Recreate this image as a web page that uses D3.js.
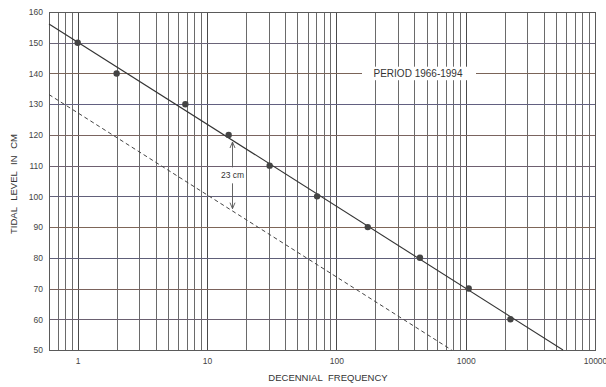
<!DOCTYPE html>
<html>
<head>
<meta charset="utf-8">
<script src="https://cdn.jsdelivr.net/npm/d3@7"></script>
<style>
  html, body { margin: 0; padding: 0; background: #fff; }
  svg { display: block; font-family: "Liberation Sans", Arial, sans-serif; }
</style>
</head>
<body>
<svg id="chart" width="606" height="387"></svg>
<script>
// Observed decennial frequency for each tidal level (cm)
const levels = [150, 140, 130, 120, 110, 100, 90, 80, 70, 60];
const frequencies = [1, 2, 6.8, 14.7, 30.5, 71, 175, 443, 1055, 2218];

// Fitted line: level = fitIntercept - fitSlope * log10(frequency)
const fitIntercept = 150.2;
const fitSlope = 26.7;
const shiftCm = 23;          // offset of the dashed line below the fit
const arrowFrequency = 15.6; // where the offset is marked

const xTickValues = [1, 10, 100, 1000, 10000];
const yTickValues = [50, 60, 70, 80, 90, 100, 110, 120, 130, 140, 150, 160];
const periodLabel = "PERIOD 1966-1994";

// ---- layout ----
const plotLeft = 49, plotRight = 595, plotTop = 12, plotBottom = 350;
const svg = d3.select("#chart");

const x = d3.scaleLog().domain([0.6, 10000]).range([plotLeft, plotRight]);
const y = d3.scaleLinear().domain([50, 160]).range([plotBottom, plotTop]);

// horizontal rule tints of the printed grid
const hColors = ["#625e80", "#6a6070", "#7a625c", "#5e5e78", "#7e6658",
                 "#62607a", "#6e6070", "#7a6460", "#626080", "#7a6458",
                 "#6a6478", "#666"];

const levelAt = (f, off) => fitIntercept - off - fitSlope * Math.log10(f);
const freqAt = (lev, off) => Math.pow(10, (fitIntercept - off - lev) / fitSlope);

// vertical grid: every 1..9 within each decade
const vGrid = [];
[0.1, 1, 10, 100, 1000].forEach(d => {
  for (let k = 1; k <= 9; k++) {
    const v = d * k;
    if (v >= 0.6 && v <= 10000) vGrid.push(v);
  }
});
vGrid.push(10000);

const grid = svg.append("g");
grid.selectAll("line.v").data(vGrid).join("line")
  .attr("class", "v")
  .attr("x1", d => Math.round(x(d)) + 0.5).attr("x2", d => Math.round(x(d)) + 0.5)
  .attr("y1", plotTop).attr("y2", plotBottom)
  .attr("stroke", d => Math.abs(Math.log10(d) % 1) < 1e-9 ? "#4a4a4a" : "#6a6a6a")
  .attr("stroke-width", 1);

grid.selectAll("line.h").data(yTickValues).join("line")
  .attr("class", "h")
  .attr("x1", plotLeft).attr("x2", plotRight)
  .attr("y1", d => Math.round(y(d)) + 0.5).attr("y2", d => Math.round(y(d)) + 0.5)
  .attr("stroke", (d, i) => hColors[i % hColors.length])
  .attr("stroke-width", 1.1);

// frame
svg.append("rect")
  .attr("x", plotLeft + 0.5).attr("y", plotTop + 0.5)
  .attr("width", plotRight - plotLeft).attr("height", plotBottom - plotTop)
  .attr("fill", "none").attr("stroke", "#5a5a5a").attr("stroke-width", 1);

// period label with its cleared box
const boxX0 = 362, boxX1 = 476;
svg.append("rect")
  .attr("x", boxX0).attr("y", y(142.2))
  .attr("width", boxX1 - boxX0).attr("height", y(137.8) - y(142.2))
  .attr("fill", "#fff");
svg.append("text")
  .attr("x", (boxX0 + boxX1) / 2 - 1).attr("y", y(140) + 3.5)
  .attr("text-anchor", "middle")
  .attr("font-size", 10).attr("fill", "#333")
  .text(periodLabel);

// fitted and shifted lines
const line = d3.line().x(d => x(d[0])).y(d => y(d[1]));
svg.append("path")
  .datum([[0.6, levelAt(0.6, 0)], [freqAt(50, 0), 50]])
  .attr("d", line).attr("fill", "none")
  .attr("stroke", "#333").attr("stroke-width", 1.1);
svg.append("path")
  .datum([[0.6, levelAt(0.6, shiftCm)], [freqAt(50, shiftCm), 50]])
  .attr("d", line).attr("fill", "none")
  .attr("stroke", "#444").attr("stroke-width", 1)
  .attr("stroke-dasharray", "4,3");

// observations
svg.selectAll("circle.obs").data(levels).join("circle")
  .attr("class", "obs")
  .attr("cx", (d, i) => x(frequencies[i]))
  .attr("cy", d => y(d))
  .attr("r", 3.2)
  .attr("fill", "#444");

// offset marker between the two lines
const ax = Math.round(x(arrowFrequency)) + 0.5;
const yTopArrow = y(levelAt(arrowFrequency, 0)) + 2;
const yBotArrow = y(levelAt(arrowFrequency, shiftCm)) - 2;
const yMid = (yTopArrow + yBotArrow) / 2;
const ann = svg.append("g").attr("stroke", "#555").attr("fill", "none").attr("stroke-width", 0.9);
ann.append("line").attr("x1", ax).attr("x2", ax).attr("y1", yTopArrow).attr("y2", yMid - 8);
ann.append("line").attr("x1", ax).attr("x2", ax).attr("y1", yMid + 8).attr("y2", yBotArrow);
ann.append("path").attr("d", `M${ax - 2.5},${yTopArrow + 6}L${ax},${yTopArrow}L${ax + 2.5},${yTopArrow + 6}`);
ann.append("path").attr("d", `M${ax - 2.5},${yBotArrow - 6}L${ax},${yBotArrow}L${ax + 2.5},${yBotArrow - 6}`);
svg.append("text")
  .attr("x", ax).attr("y", yMid + 3)
  .attr("text-anchor", "middle")
  .attr("font-size", 8.5).attr("fill", "#333")
  .text(shiftCm + " cm");

// axes (labels only, the frame carries the lines)
const xAxis = d3.axisBottom(x).tickValues(xTickValues).tickFormat(d3.format("d")).tickSize(0).tickPadding(8);
const gx = svg.append("g").attr("transform", `translate(0,${plotBottom})`).call(xAxis);
gx.select(".domain").remove();
gx.selectAll("text").attr("font-size", 8.5).attr("fill", "#444").attr("font-family", "Liberation Sans, Arial, sans-serif");

const yAxis = d3.axisLeft(y).tickValues(yTickValues).tickSize(0).tickPadding(6);
const gy = svg.append("g").attr("transform", `translate(${plotLeft},0)`).call(yAxis);
gy.select(".domain").remove();
gy.selectAll("text").attr("font-size", 8.5).attr("fill", "#444").attr("font-family", "Liberation Sans, Arial, sans-serif");

// axis titles
svg.append("text")
  .attr("x", 328).attr("y", 381)
  .attr("text-anchor", "middle")
  .attr("font-size", 9.5).attr("fill", "#333")
  .attr("word-spacing", 3)
  .text("DECENNIAL FREQUENCY");
svg.append("text")
  .attr("transform", `translate(17,${(plotTop + plotBottom) / 2 + 3}) rotate(-90)`)
  .attr("text-anchor", "middle")
  .attr("font-size", 9.5).attr("fill", "#333")
  .attr("word-spacing", 4)
  .text("TIDAL LEVEL IN CM");
</script>
</body>
</html>
